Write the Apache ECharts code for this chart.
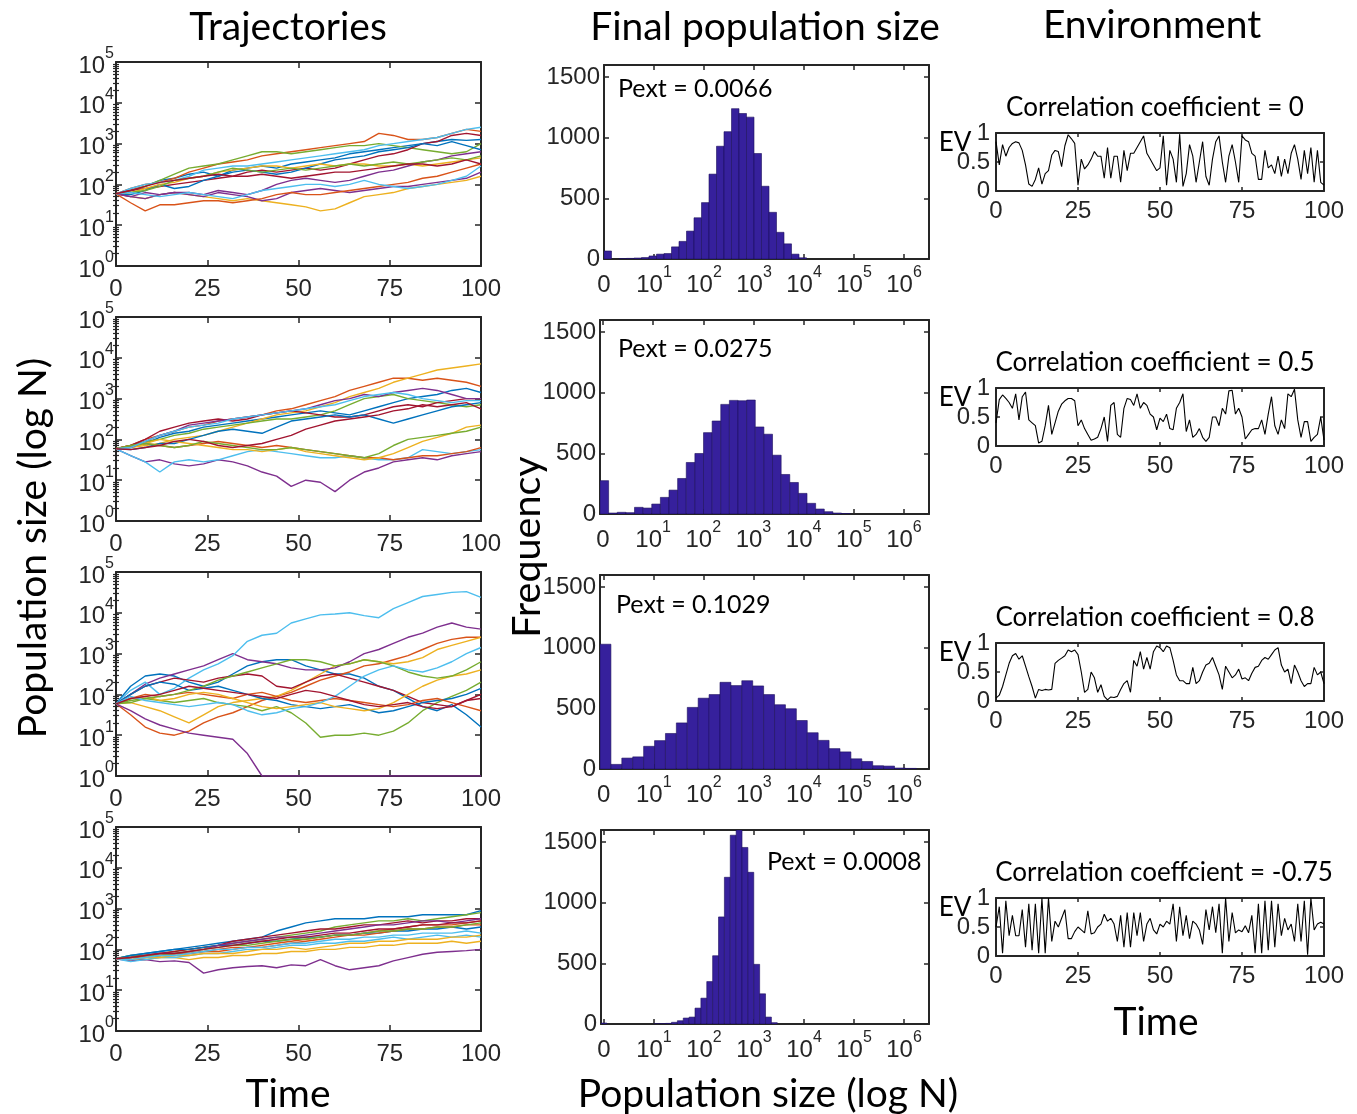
<!DOCTYPE html>
<html>
<head>
<meta charset="utf-8">
<script src="https://cdn.jsdelivr.net/npm/echarts@6/dist/echarts.min.js"></script>
<style>
html, body { margin: 0; background: #fff; }
#main { width: 1357px; height: 1114px; }
</style>
</head>
<body>
<div id="main"></div>
<script>
// ---------- data ----------
// trajectories, log10(N), sampled every 4 time steps
const trajTime = [];
for (let t = 0; t <= 100; t += 4) trajTime.push(t);

const trajRow1 = [
  [1.77,1.85,1.95,2.1,2.15,2.25,2.3,2.2,2.35,2.4,2.45,2.4,2.5,2.55,2.6,2.65,2.75,2.8,2.85,2.9,2.95,3.0,3.05,3.1,3.08,3.1],
  [1.77,1.9,2.0,2.05,2.15,2.3,2.4,2.5,2.55,2.6,2.7,2.75,2.8,2.85,2.9,2.95,3.0,3.05,3.25,3.2,3.1,3.1,3.15,3.25,3.35,3.3],
  [1.77,1.7,1.65,1.75,1.8,1.75,1.7,1.65,1.6,1.65,1.6,1.55,1.5,1.45,1.35,1.4,1.55,1.7,1.75,1.8,1.9,1.95,2.0,2.05,2.1,2.2],
  [1.77,1.7,1.8,1.75,1.8,1.75,1.7,1.8,1.75,1.7,1.6,1.65,1.8,1.85,1.9,1.85,1.8,1.85,1.9,1.95,1.95,2.0,2.05,2.1,2.15,2.3],
  [1.77,1.85,1.95,2.1,2.25,2.4,2.45,2.5,2.6,2.7,2.8,2.8,2.75,2.8,2.85,2.9,2.95,2.95,3.0,2.95,2.9,2.85,2.8,2.75,2.8,3.0],
  [1.77,1.9,2.0,2.05,2.1,2.2,2.35,2.4,2.45,2.45,2.5,2.55,2.6,2.65,2.7,2.75,2.8,2.85,2.95,3.0,3.05,3.1,3.15,3.25,3.35,3.4],
  [1.77,1.85,1.9,1.95,2.0,2.05,2.1,2.15,2.2,2.3,2.35,2.3,2.35,2.4,2.35,2.4,2.5,2.6,2.7,2.75,2.85,3.0,3.05,3.2,3.25,3.2],
  [1.77,1.75,1.85,2.0,1.9,1.95,2.1,2.2,2.3,2.35,2.3,2.25,2.3,2.4,2.5,2.6,2.65,2.7,2.8,2.85,2.9,3.0,2.95,3.05,2.95,2.85],
  [1.77,1.55,1.35,1.5,1.5,1.55,1.6,1.6,1.55,1.6,1.65,1.75,1.8,1.75,1.75,1.8,1.85,1.9,1.95,2.0,2.05,2.15,2.2,2.3,2.4,2.5],
  [1.77,1.8,1.9,2.0,2.05,2.15,2.2,2.3,2.35,2.4,2.45,2.45,2.4,2.45,2.5,2.45,2.5,2.5,2.45,2.45,2.5,2.45,2.5,2.55,2.6,2.65],
  [1.77,1.7,1.65,1.75,1.8,1.8,1.75,1.85,1.8,1.75,1.85,2.0,2.1,2.15,2.1,2.05,2.1,2.2,2.3,2.35,2.45,2.55,2.6,2.7,2.75,2.8],
  [1.77,1.8,1.85,1.95,2.1,2.15,2.2,2.3,2.4,2.35,2.3,2.35,2.4,2.35,2.4,2.45,2.5,2.45,2.5,2.55,2.5,2.55,2.6,2.65,2.6,2.7],
  [1.77,1.8,1.75,1.7,1.75,1.8,1.75,1.7,1.65,1.75,1.85,1.9,1.95,2.0,2.0,1.95,2.0,2.1,2.0,1.95,1.9,1.95,2.0,2.1,2.2,2.45],
  [1.77,1.85,1.95,2.05,2.1,2.15,2.2,2.25,2.2,2.2,2.25,2.2,2.15,2.2,2.25,2.3,2.3,2.35,2.4,2.45,2.5,2.5,2.45,2.5,2.6,2.5]
];
const trajRow2 = [
  [1.77,1.8,1.9,2.05,2.15,2.2,2.3,2.35,2.4,2.45,2.5,2.55,2.6,2.65,2.7,2.65,2.6,2.7,2.8,2.9,3.0,3.05,3.1,3.2,3.25,3.15],
  [1.77,1.85,2.0,2.1,2.2,2.3,2.35,2.45,2.5,2.55,2.6,2.7,2.75,2.85,2.95,3.05,3.2,3.3,3.4,3.5,3.5,3.45,3.5,3.45,3.4,3.3],
  [1.77,1.8,1.85,1.9,2.0,2.05,2.1,2.2,2.3,2.4,2.5,2.6,2.65,2.7,2.8,2.9,3.05,3.15,3.25,3.4,3.5,3.6,3.7,3.75,3.8,3.85],
  [1.77,1.6,1.45,1.5,1.4,1.35,1.4,1.5,1.45,1.35,1.2,1.1,0.85,1.0,0.95,0.72,1.0,1.2,1.3,1.45,1.5,1.55,1.5,1.6,1.65,1.7],
  [1.77,1.85,1.95,2.0,2.1,2.15,2.25,2.3,2.35,2.4,2.45,2.5,2.5,2.55,2.6,2.7,2.85,3.0,3.05,3.1,3.0,2.95,2.9,2.85,2.8,2.85],
  [1.77,1.6,1.45,1.2,1.45,1.5,1.45,1.5,1.6,1.7,1.75,1.7,1.65,1.6,1.55,1.55,1.6,1.55,1.5,1.5,1.55,1.75,1.7,1.65,1.7,1.75],
  [1.77,1.85,2.0,2.2,2.3,2.4,2.45,2.5,2.45,2.5,2.6,2.65,2.7,2.65,2.6,2.55,2.55,2.6,2.7,2.8,2.85,2.8,2.9,2.95,3.0,3.0],
  [1.77,1.75,1.8,1.9,1.9,2.0,2.1,2.2,2.25,2.2,2.15,2.3,2.45,2.5,2.55,2.6,2.55,2.6,2.5,2.4,2.5,2.6,2.7,2.8,2.85,2.9],
  [1.77,1.85,1.9,1.85,1.8,1.85,1.9,1.95,1.9,1.85,1.8,1.85,1.8,1.75,1.7,1.65,1.6,1.55,1.55,1.5,1.55,1.6,1.6,1.65,1.7,1.8],
  [1.77,1.8,1.9,2.0,1.95,1.9,1.85,1.8,1.75,1.75,1.7,1.75,1.8,1.7,1.65,1.6,1.55,1.5,1.55,1.65,1.8,1.95,2.05,2.15,2.3,2.35],
  [1.77,1.8,1.95,2.1,2.2,2.35,2.4,2.45,2.5,2.55,2.6,2.65,2.7,2.75,2.85,2.95,3.0,3.1,3.05,3.15,3.2,3.25,3.2,3.1,3.0,3.0],
  [1.77,1.85,1.9,1.85,1.8,1.85,1.95,1.9,1.85,1.8,1.75,1.75,1.8,1.75,1.7,1.65,1.6,1.55,1.65,1.85,2.0,2.05,2.1,2.15,2.2,2.3],
  [1.77,1.8,1.95,2.1,2.2,2.3,2.35,2.4,2.5,2.55,2.6,2.65,2.7,2.75,2.8,2.85,2.95,3.05,3.1,3.15,3.1,3.0,2.95,2.9,2.95,2.95],
  [1.77,1.75,1.8,1.85,1.95,2.0,1.95,1.85,1.8,1.85,1.9,2.0,2.1,2.25,2.35,2.45,2.5,2.55,2.6,2.7,2.75,2.85,2.8,2.85,2.9,2.75]
];
const trajRow3 = [
  [1.77,2.2,2.45,2.5,2.45,2.3,2.2,2.3,2.5,2.7,2.8,2.85,2.85,2.7,2.6,2.5,2.5,2.4,2.2,2.1,1.9,1.7,1.6,1.75,1.5,1.2],
  [1.77,1.5,1.2,1.05,1.0,1.1,1.3,1.45,1.55,1.7,1.85,1.95,2.05,2.2,2.35,2.45,2.55,2.7,2.75,2.85,2.95,3.1,3.25,3.35,3.4,3.4],
  [1.77,1.8,1.7,1.6,1.45,1.3,1.5,1.7,1.8,1.85,1.9,1.95,2.1,2.3,2.5,2.7,2.75,2.85,2.8,2.75,2.8,2.9,3.1,3.2,3.3,3.4],
  [1.77,2.0,2.25,2.4,2.5,2.6,2.7,2.85,3.0,2.85,2.8,2.75,2.65,2.6,2.6,2.65,2.8,3.0,3.1,3.25,3.4,3.5,3.65,3.75,3.65,3.6],
  [1.77,1.8,1.9,1.85,1.8,1.85,1.9,1.8,1.75,1.7,1.6,1.7,1.55,1.3,0.95,1.0,1.0,1.05,1.0,1.1,1.3,1.6,1.8,1.95,2.1,2.3],
  [1.77,2.1,2.3,2.0,2.15,2.4,2.6,2.75,2.95,3.3,3.45,3.5,3.75,3.85,3.95,3.97,4.0,3.93,3.88,4.1,4.25,4.4,4.45,4.5,4.52,4.38],
  [1.77,2.0,2.2,2.3,2.4,2.35,2.3,2.4,2.45,2.5,2.45,2.2,2.15,2.3,2.45,2.5,2.4,2.3,2.2,2.1,1.95,1.8,1.75,1.7,1.85,2.0],
  [1.77,2.0,2.2,2.3,2.25,2.1,2.15,2.2,2.1,2.0,1.9,1.85,1.75,1.7,1.65,1.7,1.75,1.65,1.55,1.6,1.7,1.8,1.85,1.9,2.0,2.15],
  [1.77,1.9,2.0,1.95,2.0,2.05,2.0,1.95,1.9,2.0,2.05,1.95,1.85,1.8,1.85,1.9,1.85,1.8,1.75,1.7,1.75,1.85,1.9,1.8,1.7,1.6],
  [1.77,1.9,1.95,1.85,1.9,2.0,2.05,2.0,1.9,1.8,1.7,1.65,1.7,1.75,1.8,1.7,1.65,1.6,1.65,1.8,2.0,2.2,2.35,2.45,2.5,2.6],
  [1.77,1.6,1.4,1.25,1.15,1.05,1.0,0.95,0.9,0.55,0,0,0,0,0,0,0,0,0,0,0,0,0,0,0,0],
  [1.77,1.85,1.9,1.95,2.0,2.1,2.2,2.35,2.45,2.55,2.65,2.75,2.85,2.85,2.8,2.7,2.75,2.85,2.8,2.7,2.55,2.45,2.4,2.45,2.6,2.8],
  [1.77,1.95,1.85,1.8,1.75,1.7,1.75,1.8,1.75,1.6,1.5,1.55,1.65,1.7,1.8,1.95,2.2,2.45,2.6,2.7,2.6,2.55,2.65,2.8,3.0,3.15],
  [1.77,1.9,1.95,2.0,2.1,2.2,2.15,2.1,2.05,2.0,1.95,1.9,2.0,2.1,2.05,1.95,1.85,1.75,1.7,1.75,1.8,1.7,1.65,1.7,1.85,1.9]
];
const trajRow4 = [
  [1.77,1.85,1.9,1.95,2.0,2.05,2.1,2.15,2.2,2.25,2.3,2.45,2.55,2.65,2.7,2.75,2.75,2.75,2.8,2.8,2.8,2.85,2.85,2.85,2.85,2.95],
  [1.77,1.75,1.8,1.85,1.85,1.9,1.95,2.0,2.05,2.05,2.1,2.15,2.2,2.25,2.3,2.35,2.35,2.4,2.45,2.5,2.55,2.6,2.6,2.6,2.65,2.7],
  [1.77,1.75,1.75,1.8,1.8,1.75,1.8,1.8,1.85,1.85,1.9,1.9,1.95,1.95,2.0,2.0,2.05,2.05,2.1,2.1,2.15,2.15,2.15,2.2,2.15,2.2],
  [1.77,1.72,1.75,1.7,1.72,1.68,1.42,1.5,1.55,1.58,1.6,1.55,1.62,1.6,1.75,1.6,1.5,1.55,1.6,1.72,1.8,1.88,1.93,1.95,1.97,2.0],
  [1.77,1.85,1.85,1.9,1.95,2.0,2.05,2.1,2.15,2.2,2.25,2.3,2.35,2.4,2.45,2.55,2.6,2.65,2.7,2.7,2.75,2.7,2.75,2.8,2.85,2.9],
  [1.77,1.7,1.75,1.8,1.8,1.85,1.9,1.9,1.95,2.0,2.0,2.05,2.1,2.1,2.15,2.15,2.2,2.2,2.25,2.3,2.25,2.3,2.35,2.3,2.35,2.3],
  [1.77,1.8,1.85,1.9,1.95,2.0,2.05,2.1,2.2,2.25,2.3,2.35,2.4,2.45,2.5,2.5,2.55,2.6,2.6,2.65,2.7,2.65,2.7,2.7,2.75,2.75],
  [1.77,1.85,1.9,1.95,2.0,2.0,2.05,2.1,2.1,2.15,2.2,2.2,2.25,2.3,2.3,2.35,2.35,2.4,2.4,2.45,2.45,2.5,2.5,2.55,2.5,2.55],
  [1.77,1.8,1.8,1.85,1.9,1.9,1.95,1.95,2.0,2.05,2.05,2.1,2.15,2.2,2.25,2.3,2.35,2.35,2.4,2.45,2.5,2.5,2.55,2.55,2.6,2.6],
  [1.77,1.75,1.8,1.8,1.85,1.85,1.9,1.9,1.9,1.95,2.0,2.0,2.05,2.0,2.05,2.1,2.15,2.15,2.2,2.2,2.25,2.25,2.25,2.3,2.3,2.35],
  [1.77,1.8,1.85,1.9,1.9,1.95,2.0,2.1,2.15,2.2,2.25,2.3,2.3,2.35,2.4,2.45,2.5,2.55,2.6,2.6,2.65,2.7,2.7,2.65,2.7,2.75],
  [1.77,1.8,1.85,1.85,1.9,1.95,2.0,2.05,2.1,2.1,2.15,2.2,2.25,2.25,2.3,2.35,2.35,2.4,2.45,2.45,2.5,2.5,2.55,2.55,2.6,2.65],
  [1.77,1.75,1.8,1.85,1.85,1.9,1.95,2.0,2.0,2.05,2.05,2.1,2.15,2.15,2.2,2.25,2.25,2.3,2.3,2.35,2.35,2.4,2.4,2.4,2.45,2.4],
  [1.77,1.8,1.85,1.9,1.9,1.95,2.0,2.05,2.1,2.15,2.2,2.25,2.3,2.3,2.35,2.4,2.4,2.45,2.5,2.5,2.55,2.6,2.6,2.65,2.65,2.7]
];

// histograms of final size: counts per bin, bins in log10 units
const histStart = [0, -0.06, -0.075, -0.059];
const histWidth = [0.15, 0.172, 0.218, 0.1175];
const hist1 = [66,0,3,5,8,12,25,40,45,100,145,230,340,465,700,930,1050,1240,1200,1170,870,600,385,220,125,40,10];
const hist2 = [275,8,14,11,55,49,82,137,197,293,425,499,671,767,904,937,934,940,718,658,485,326,260,170,88,41,19,8,3];
const hist3 = [1029,38,90,100,187,234,293,380,508,584,614,715,688,728,685,614,530,497,400,299,236,168,141,84,62,27,24,8,5];
const hist4 = [8,0,0,0,0,0,0,0,0,1,2,5,14,27,49,57,131,213,350,563,883,1210,1557,1600,1456,1251,492,249,57,11];
const pextLabels = ['Pext = 0.0066', 'Pext = 0.0275', 'Pext = 0.1029', 'Pext = 0.0008'];

// environment series
const envTime = [];
for (let t = 0; t <= 100; t++) envTime.push(t);
const env1 = [0.85,0.45,0.8,0.6,0.75,0.82,0.85,0.83,0.7,0.45,0.12,0.08,0.2,0.4,0.12,0.3,0.35,0.62,0.7,0.68,
  0.42,0.78,0.97,0.9,0.82,0.1,0.55,0.38,0.45,0.55,0.68,0.6,0.6,0.22,0.75,0.22,0.6,0.6,0.15,0.7,
  0.35,0.65,0.65,0.75,0.85,0.95,0.65,0.55,0.45,0.35,0.4,0.95,0.1,0.7,0.55,0.15,0.98,0.08,0.3,0.8,
  0.6,0.15,0.5,0.85,0.25,0.1,0.55,0.85,0.95,0.5,0.15,0.6,0.8,0.5,0.15,0.95,0.88,0.85,0.65,0.6,
  0.2,0.2,0.7,0.4,0.45,0.3,0.6,0.25,0.55,0.3,0.65,0.8,0.55,0.2,0.7,0.3,0.75,0.15,0.7,0.15,0.1];
const env2 = [0.4,0.8,0.88,0.82,0.75,0.65,0.9,0.45,0.85,0.93,0.45,0.4,0.35,0.05,0.08,0.35,0.7,0.2,0.4,0.6,
  0.72,0.78,0.82,0.82,0.78,0.35,0.45,0.3,0.2,0.1,0.12,0.15,0.3,0.5,0.08,0.7,0.75,0.2,0.15,0.65,
  0.82,0.8,0.7,0.9,0.65,0.75,0.7,0.55,0.5,0.28,0.48,0.42,0.55,0.3,0.28,0.65,0.75,0.9,0.25,0.45,
  0.15,0.2,0.3,0.15,0.08,0.15,0.5,0.5,0.35,0.65,0.55,0.95,0.96,0.55,0.65,0.5,0.12,0.2,0.28,0.3,
  0.3,0.45,0.2,0.55,0.85,0.35,0.2,0.45,0.3,0.9,0.85,0.98,0.45,0.15,0.42,0.42,0.08,0.15,0.2,0.5,0.1];
const env3 = [0.05,0.1,0.25,0.45,0.65,0.78,0.82,0.72,0.78,0.6,0.42,0.25,0.05,0.2,0.18,0.2,0.19,0.2,0.65,0.7,
  0.74,0.78,0.88,0.85,0.88,0.8,0.5,0.15,0.2,0.5,0.4,0.15,0.28,0.08,0.02,0.07,0.06,0.08,0.2,0.3,
  0.35,0.15,0.7,0.6,0.85,0.55,0.75,0.55,0.85,0.95,0.92,0.85,0.95,0.92,0.7,0.45,0.35,0.35,0.3,0.3,
  0.58,0.3,0.35,0.5,0.62,0.65,0.75,0.6,0.45,0.2,0.6,0.5,0.4,0.45,0.55,0.38,0.4,0.35,0.48,0.58,
  0.6,0.7,0.75,0.72,0.8,0.88,0.92,0.62,0.5,0.55,0.3,0.62,0.5,0.35,0.25,0.3,0.3,0.58,0.45,0.5,0.3];
const env4 = [0.5,0.85,0.05,0.95,0.35,0.7,0.35,0.35,0.8,0.15,0.9,0.1,0.9,0.05,1.0,0.05,1.0,0.25,0.6,0.5,
  0.65,0.8,0.3,0.3,0.42,0.5,0.45,0.4,0.78,0.38,0.4,0.5,0.55,0.72,0.6,0.65,0.55,0.25,0.7,0.15,
  0.75,0.15,0.75,0.35,0.75,0.25,0.55,0.65,0.45,0.38,0.55,0.5,0.6,0.55,0.9,0.25,0.85,0.35,0.7,0.3,
  0.6,0.55,0.45,0.2,0.8,0.45,0.85,0.4,0.9,0.05,1.0,0.25,0.75,0.4,0.45,0.42,0.52,0.4,0.7,0.05,
  0.9,0.05,0.95,0.1,0.95,0.15,0.9,0.35,0.65,0.45,0.55,0.25,0.9,0.25,0.95,0.02,1.0,0.45,0.55,0.58,0.55];
const corrLabels = ['Correlation coefficient = 0', 'Correlation coefficient = 0.5',
  'Correlation coefficient = 0.8', 'Correlation coeffcient = -0.75'];

// tick values
const xTimeTicks = [0, 25, 50, 75, 100];
const logTicks = [0, 1, 2, 3, 4, 5];
const histXTicks = [0, 1, 2, 3, 4, 5, 6];
const freqTicks = [0, 500, 1000, 1500];
const evTicks = [0, 0.5, 1];

// ---------- styling ----------
const NUM = 'Liberation Sans';
const TXT = 'Lato';
const INK = '#262626';
const trajColors = ['#0072BD', '#D95319', '#EDB120', '#7E2F8E', '#77AC30', '#4DBEEE', '#A2142F'];
const barFill = '#36209c';

const trajTop = [62, 317, 572, 827];
const histTop = [65, 320, 575, 830];
const histLeft = [604, 600, 600, 601];
const envTop = [133, 388, 643, 898];

const minorLog = [];
for (let n = 0; n < 5; n++) {
  for (let k = 2; k <= 9; k++) minorLog.push(n + Math.log10(k));
}

// "10" with a raised exponent
const powRich = {
  b: { fontFamily: NUM, fontSize: 24, color: INK, lineHeight: 32, verticalAlign: 'bottom' },
  s: { fontFamily: NUM, fontSize: 16, color: INK, lineHeight: 16, verticalAlign: 'top' }
};
const powLabel = { fontFamily: NUM, fontSize: 24, color: INK, lineHeight: 32, rich: powRich };

const option = {
  animation: false,
  backgroundColor: '#fff',
  grid: [], xAxis: [], yAxis: [], series: [], graphic: []
};

function addAxis(list, gi, pos, min, max, ticks, tickLen, label) {
  list.push({
    gridIndex: gi, type: 'value', position: pos, min: min, max: max,
    axisLine: { show: true, onZero: false, lineStyle: { color: INK, width: 2 } },
    axisTick: { show: true, inside: true, length: tickLen, customValues: ticks, lineStyle: { color: INK, width: 1.5 } },
    axisLabel: label ? Object.assign({ show: true, customValues: ticks }, label) : { show: false },
    splitLine: { show: false }
  });
  return list.length - 1;
}

function addMinor(list, gi, pos, ticks, tickLen) {
  list.push({
    gridIndex: gi, type: 'value', position: pos, min: 0, max: 5,
    axisLine: { show: false },
    axisTick: { show: true, inside: true, length: tickLen, customValues: ticks, lineStyle: { color: INK, width: 1.2 } },
    axisLabel: { show: false },
    splitLine: { show: false }
  });
}

const numLabel = { fontFamily: NUM, fontSize: 24, color: INK, formatter: v => String(v) };

const trajRows = [trajRow1, trajRow2, trajRow3, trajRow4];
const hists = [hist1, hist2, hist3, hist4];
const envs = [env1, env2, env3, env4];

for (let r = 0; r < 4; r++) {
  // trajectories
  let gi = option.grid.length;
  option.grid.push({ left: 116, top: trajTop[r], width: 365, height: 204 });
  let xi = addAxis(option.xAxis, gi, 'bottom', 0, 100, xTimeTicks, 6, Object.assign({}, numLabel, { margin: 11 }));
  addAxis(option.xAxis, gi, 'top', 0, 100, xTimeTicks, 6, null);
  let yi = addAxis(option.yAxis, gi, 'left', 0, 5, logTicks, 6, Object.assign({}, powLabel, {
    margin: 2, formatter: v => '{b|10}{s|' + v + '}'
  }));
  addAxis(option.yAxis, gi, 'right', 0, 5, logTicks, 6, null);
  addMinor(option.yAxis, gi, 'left', minorLog, 3);
  addMinor(option.yAxis, gi, 'right', minorLog, 3);
  trajRows[r].forEach((line, i) => {
    option.series.push({
      type: 'line', xAxisIndex: xi, yAxisIndex: yi, showSymbol: false, silent: true,
      lineStyle: { color: trajColors[i % 7], width: 1.4 },
      data: line.map((v, j) => [trajTime[j], v])
    });
  });

  // histogram
  gi = option.grid.length;
  option.grid.push({ left: histLeft[r], top: histTop[r], width: 929 - histLeft[r], height: 194 });
  xi = addAxis(option.xAxis, gi, 'bottom', histStart[r], 6.5, histXTicks, 5, Object.assign({}, powLabel, {
    margin: 6, formatter: v => v === 0 ? '{b|0}' : '{b|10}{s|' + v + '}'
  }));
  addAxis(option.xAxis, gi, 'top', histStart[r], 6.5, histXTicks, 5, null);
  yi = addAxis(option.yAxis, gi, 'left', 0, 1600, freqTicks, 5, Object.assign({}, numLabel, { margin: 4 }));
  addAxis(option.yAxis, gi, 'right', 0, 1600, freqTicks, 5, null);
  const bins = hists[r].map((c, k) => [histStart[r] + k * histWidth[r], histStart[r] + (k + 1) * histWidth[r], c])
    .filter(b => b[2] > 0);
  option.series.push({
    type: 'custom', xAxisIndex: xi, yAxisIndex: yi, clip: true, silent: true,
    encode: { x: [0, 1], y: 2 },
    data: bins,
    renderItem: function (params, api) {
      const p0 = api.coord([api.value(0), api.value(2)]);
      const p1 = api.coord([api.value(1), 0]);
      return {
        type: 'rect',
        shape: { x: p0[0], y: p0[1], width: p1[0] - p0[0], height: p1[1] - p0[1] },
        style: { fill: barFill, stroke: '#1c0f5c', lineWidth: 0.6 }
      };
    }
  });

  // environment
  gi = option.grid.length;
  option.grid.push({ left: 996, top: envTop[r], width: 328, height: 58 });
  xi = addAxis(option.xAxis, gi, 'bottom', 0, 100, xTimeTicks, 4, Object.assign({}, numLabel, { margin: 8 }));
  addAxis(option.xAxis, gi, 'top', 0, 100, xTimeTicks, 4, null);
  yi = addAxis(option.yAxis, gi, 'left', 0, 1, evTicks, 4, Object.assign({}, numLabel, { margin: 6 }));
  addAxis(option.yAxis, gi, 'right', 0, 1, evTicks, 4, null);
  option.series.push({
    type: 'line', xAxisIndex: xi, yAxisIndex: yi, showSymbol: false, silent: true,
    lineStyle: { color: '#000', width: 1.1 },
    data: envs[r].map((v, j) => [envTime[j], v])
  });
}

// ---------- free texts ----------
function txt(x, y, s, size, align, rot) {
  return {
    type: 'text', x: x, y: y, rotation: rot || 0, silent: true,
    style: {
      text: s, fontFamily: TXT, fontSize: size, fill: '#000',
      align: align || 'center', verticalAlign: 'middle',
      textAlign: align || 'center', textVerticalAlign: 'middle'
    }
  };
}
const g = option.graphic;
g.push(txt(288, 27, 'Trajectories', 39));
g.push(txt(765, 27, 'Final population size', 39));
g.push(txt(1152, 25, 'Environment', 39));
g.push(txt(33, 548, 'Population size (log N)', 39, 'center', Math.PI / 2));
g.push(txt(527, 547, 'Frequency', 39.5, 'center', Math.PI / 2));
g.push(txt(288, 1094, 'Time', 39));
g.push(txt(768, 1094, 'Population size (log N)', 39));
g.push(txt(1156, 1022, 'Time', 39));

const pextPos = [[618, 89], [618, 349], [616, 605], [767, 862]];
const corrPos = [[1155, 108], [1155, 363], [1155, 618], [1164, 873]];
for (let r = 0; r < 4; r++) {
  g.push(txt(pextPos[r][0], pextPos[r][1], pextLabels[r], 25, 'left'));
  g.push(txt(corrPos[r][0], corrPos[r][1], corrLabels[r], 26));
  g.push(txt(955, envTop[r] + 10, 'EV', 26));
}

const chart = echarts.init(document.getElementById('main'));
chart.setOption(option);
</script>
</body>
</html>
